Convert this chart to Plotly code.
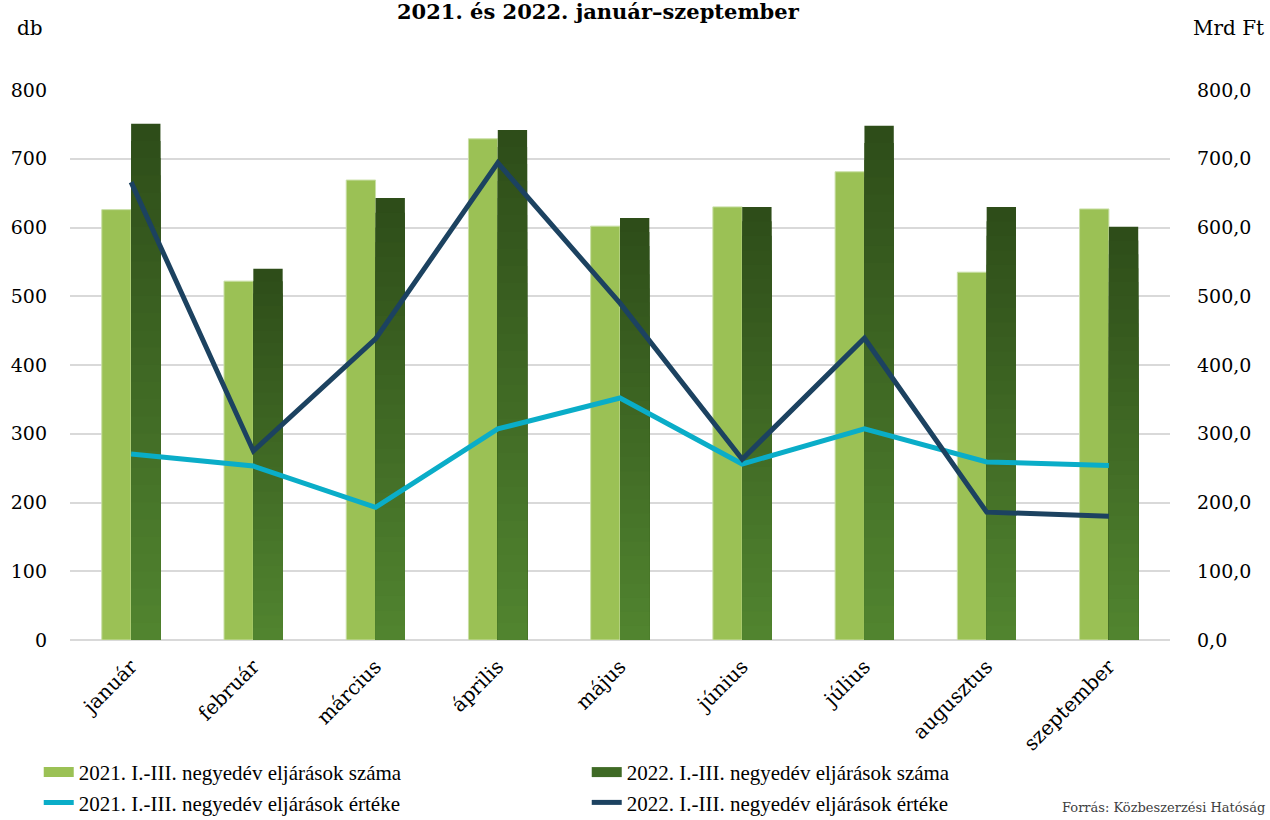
import plotly.graph_objects as go

months = ["január", "február", "március", "április", "május", "június",
          "július", "augusztus", "szeptember"]
count_2021 = [626, 522, 669, 729, 602, 630, 681, 535, 627]
count_2022 = [751, 540, 643, 742, 614, 630, 748, 630, 601]
value_2021 = [270.5, 253.0, 193.0, 307.0, 352.0, 256.0, 307.0, 259.0, 254.0]
value_2022 = [666.0, 275.0, 438.0, 694.0, 490.0, 263.0, 439.0, 186.0, 180.0]

name_c21 = "2021. I.-III. negyedév eljárások száma"
name_c22 = "2022. I.-III. negyedév eljárások száma"
name_v21 = "2021. I.-III. negyedév eljárások értéke"
name_v22 = "2022. I.-III. negyedév eljárások értéke"

FONT = "DejaVu Serif"
LEG_FONT = "Liberation Serif"
FS = 19
LIGHT = "#9BC155"
DARK_TOP = (0x2E, 0x4D, 0x19)
DARK_BOT = (0x52, 0x86, 0x30)
DARK_MID = "#3F6A25"
CYAN = "#0AADC8"
NAVY = "#1C4260"

fig = go.Figure()

fig.add_trace(go.Bar(
    x=months, y=count_2021, name=name_c21, offsetgroup="a",
    marker=dict(color=LIGHT, line=dict(color="#C9DFA6", width=1)),
    showlegend=False, yaxis="y"))

# dark bars: overlapping bars of shrinking height imitate the vertical gradient
N = 30
for k in range(N):
    t = 1 - k / N  # 1 at top colour, towards 0 at bottom colour
    c = tuple(round(DARK_BOT[i] + (DARK_TOP[i] - DARK_BOT[i]) * t) for i in range(3))
    col = "rgb(%d,%d,%d)" % c
    fig.add_trace(go.Bar(
        x=months, y=[v * (N - k) / N for v in count_2022],
        offsetgroup="b", name=name_c22,
        marker=dict(color=col, line=dict(width=0)),
        showlegend=False, yaxis="y",
        hoverinfo=None if k == 0 else "skip"))

fig.add_trace(go.Scatter(
    x=months, y=value_2021, name=name_v21, mode="lines",
    line=dict(color=CYAN, width=5), yaxis="y2", legendrank=3))
fig.add_trace(go.Scatter(
    x=months, y=value_2022, name=name_v22, mode="lines",
    line=dict(color=NAVY, width=5), yaxis="y2", legendrank=4))

# legend-only keys drawn as wide rectangles for the bar series
fig.add_trace(go.Scatter(
    x=[None], y=[None], name=name_c21, mode="lines",
    line=dict(color=LIGHT, width=11), legendrank=1, hoverinfo="skip"))
fig.add_trace(go.Scatter(
    x=[None], y=[None], name=name_c22, mode="lines",
    line=dict(color=DARK_MID, width=11), legendrank=2, hoverinfo="skip"))

fig.update_layout(
    width=1270, height=820,
    margin=dict(l=70, r=100, t=90, b=180),
    paper_bgcolor="white", plot_bgcolor="white",
    font=dict(family=FONT, size=FS, color="#000000"),
    separators=", ",
    barmode="group", bargap=0.52, bargroupgap=0,
    showlegend=True,
    legend=dict(orientation="h", x=0.0305, y=0.083, xanchor="left", yanchor="top",
                xref="container", yref="container",
                entrywidth=503, entrywidthmode="pixels",
                font=dict(family=LEG_FONT, size=21), traceorder="normal",
                itemwidth=30, tracegroupgap=0),
    xaxis=dict(type="category", tickangle=-45, showgrid=False, automargin=False,
               showline=False, ticks="", tickfont=dict(size=20), ticklabelstandoff=10),
    yaxis=dict(range=[0, 800], dtick=100, showgrid=True, gridcolor="#D9D9D9",
               gridwidth=2, zeroline=True, zerolinecolor="#D9D9D9", zerolinewidth=2,
               ticks="", ticklabelstandoff=22, tickfont=dict(size=FS), automargin=False),
    yaxis2=dict(range=[0, 800], dtick=100, overlaying="y", side="right",
                showgrid=False, zeroline=False, tickformat=".1f", ticks="",
                ticklabelstandoff=26, tickfont=dict(size=FS), automargin=False),
    annotations=[
        dict(text="<b>2021. és 2022. január–szeptember</b>", xref="paper", yref="paper",
             x=0.48, y=1.142, xanchor="center", yanchor="middle", showarrow=False,
             font=dict(size=21)),
        dict(text="db", xref="paper", yref="paper", x=-0.036, y=1.113,
             xanchor="center", yanchor="middle", showarrow=False, font=dict(size=20)),
        dict(text="Mrd Ft", xref="paper", yref="paper", x=1.053, y=1.113,
             xanchor="center", yanchor="middle", showarrow=False, font=dict(size=20)),
        dict(text="Forrás: Közbeszerzési Hatóság", xref="paper", yref="paper",
             x=1.088, y=-0.322, xanchor="right", yanchor="bottom", showarrow=False,
             font=dict(size=13, color="#404040")),
    ],
)

fig.write_html("out.html")
